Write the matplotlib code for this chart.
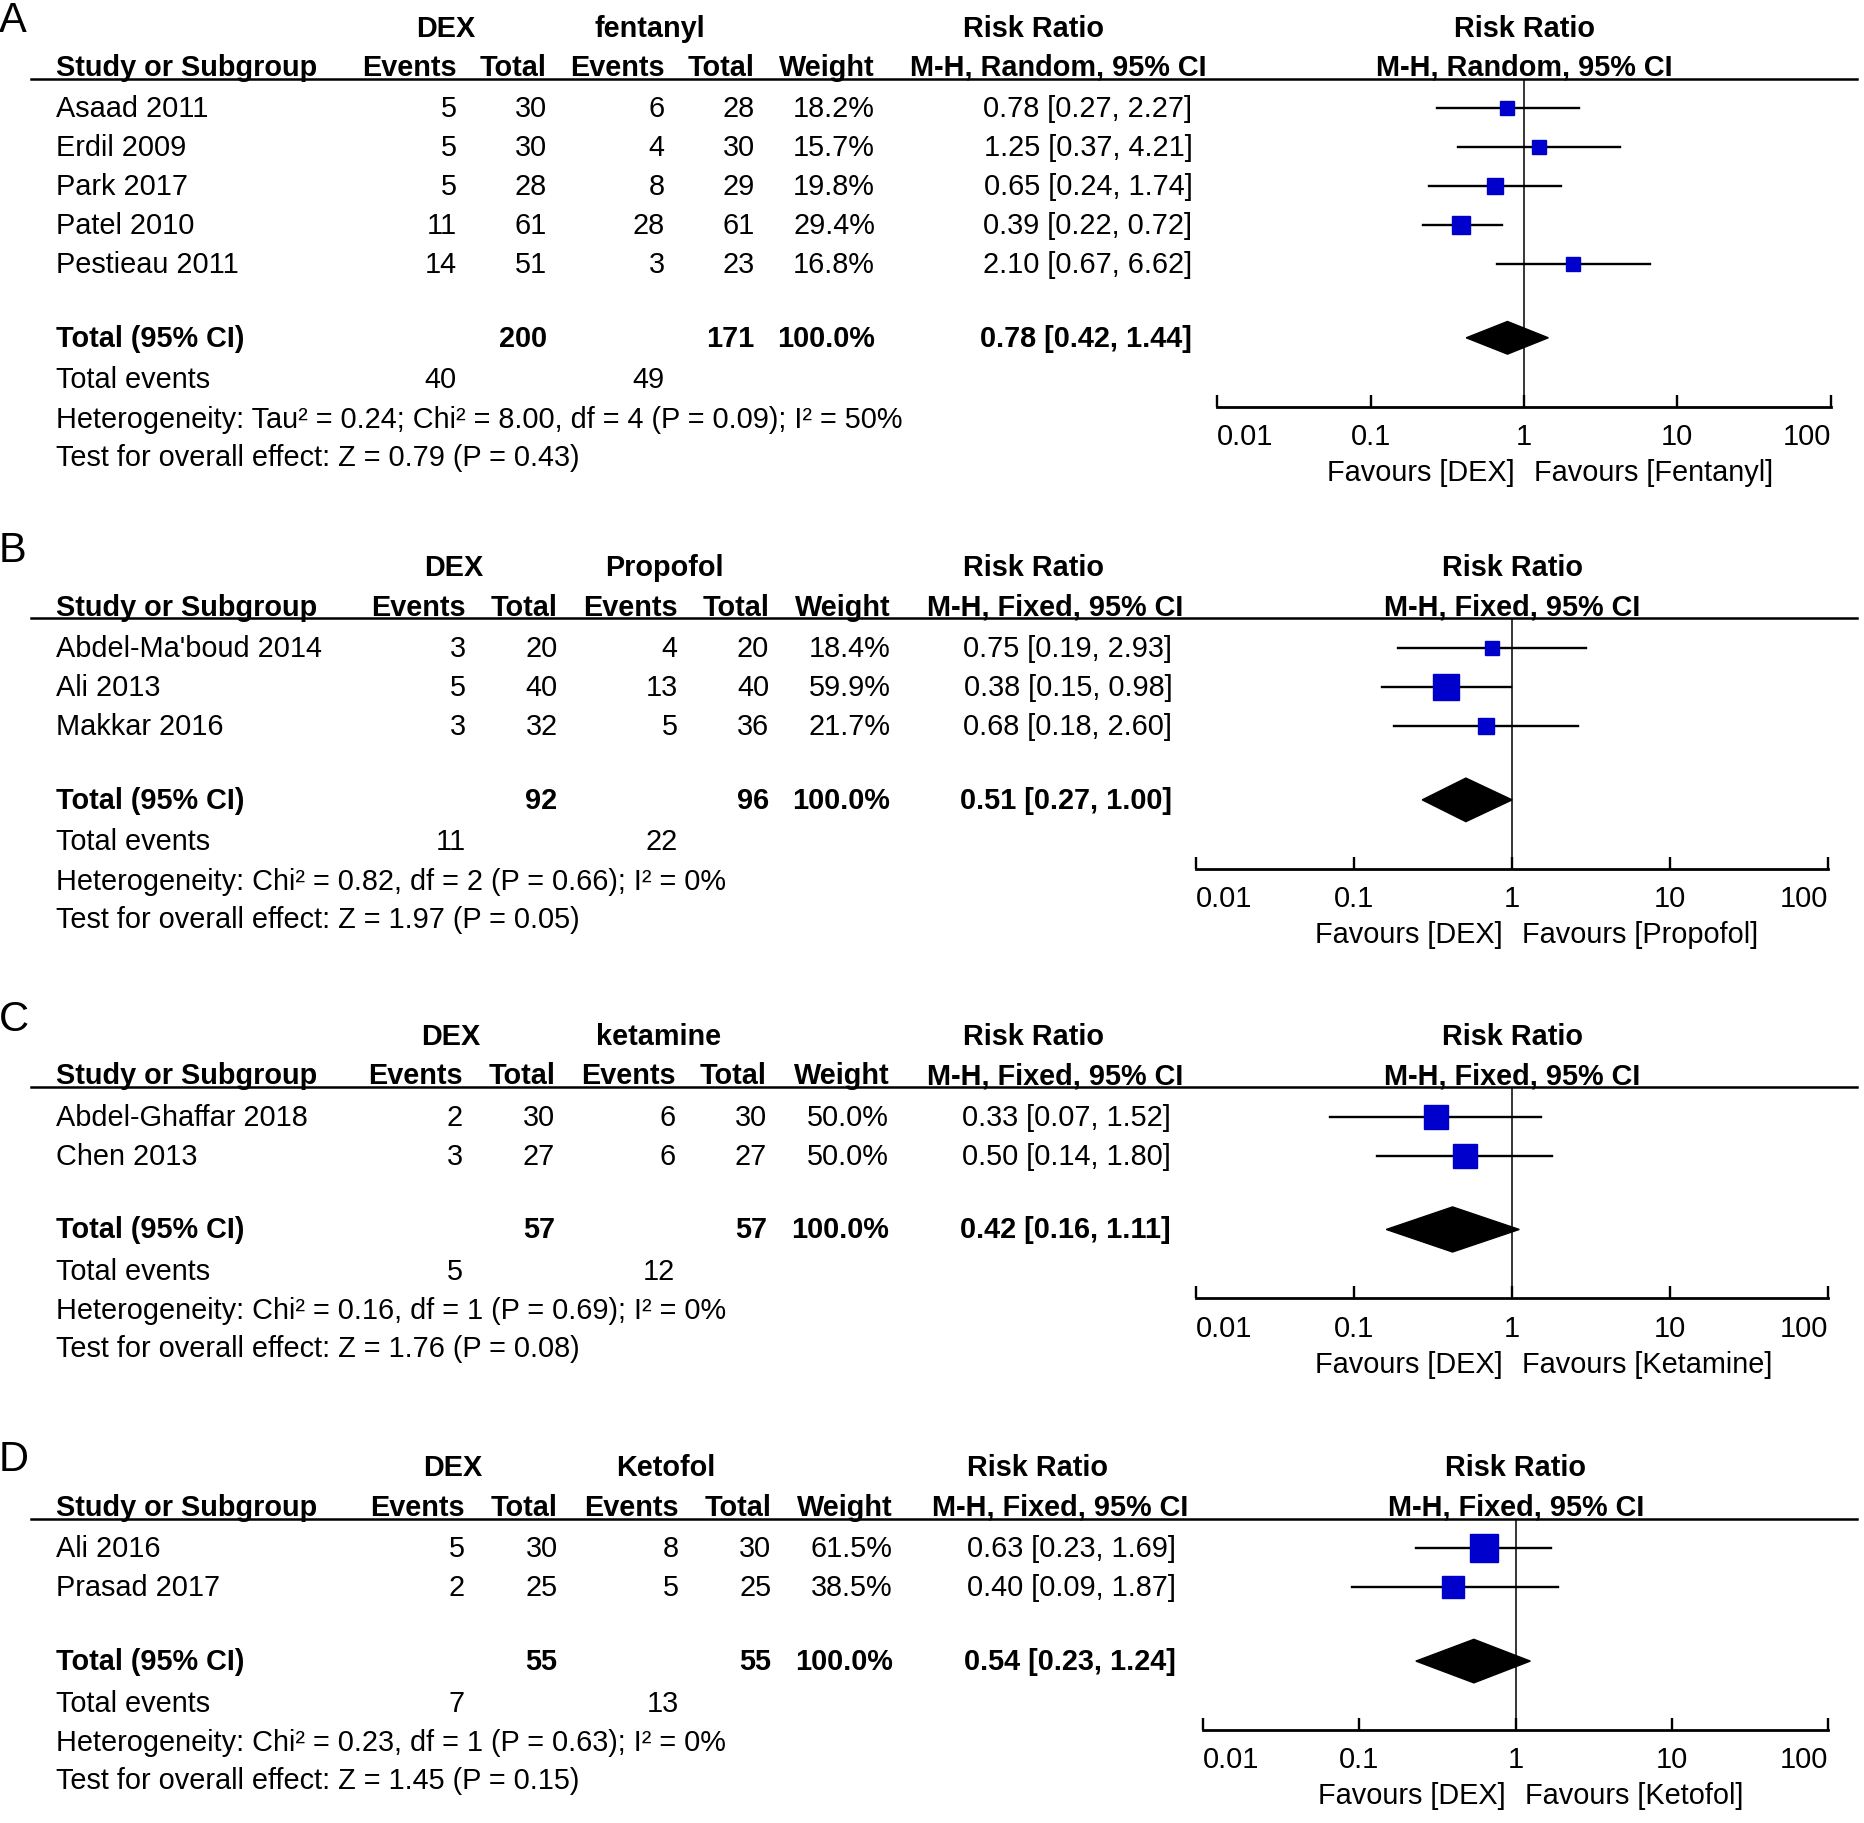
import numpy as np
import matplotlib.pyplot as plt
from matplotlib import transforms
from matplotlib.lines import Line2D
from matplotlib.ticker import NullLocator

plt.rcParams['font.family'] = ['Liberation Sans', 'DejaVu Sans']

# panel A: DEX vs fentanyl
a_studies = ['Asaad 2011', 'Erdil 2009', 'Park 2017', 'Patel 2010', 'Pestieau 2011']
a_dex_events = [5, 5, 5, 11, 14]
a_dex_total = [30, 30, 28, 61, 51]
a_ctl_events = [6, 4, 8, 28, 3]
a_ctl_total = [28, 30, 29, 61, 23]
a_weight = [18.2, 15.7, 19.8, 29.4, 16.8]
a_rr = [0.78, 1.25, 0.65, 0.39, 2.10]
a_lo = [0.27, 0.37, 0.24, 0.22, 0.67]
a_hi = [2.27, 4.21, 1.74, 0.72, 6.62]
a_pooled = [0.78, 0.42, 1.44]
a_het = 'Heterogeneity: Tau² = 0.24; Chi² = 8.00, df = 4 (P = 0.09); I² = 50%'
a_test = 'Test for overall effect: Z = 0.79 (P = 0.43)'

# panel B: DEX vs propofol
b_studies = ["Abdel-Ma'boud 2014", 'Ali 2013', 'Makkar 2016']
b_dex_events = [3, 5, 3]
b_dex_total = [20, 40, 32]
b_ctl_events = [4, 13, 5]
b_ctl_total = [20, 40, 36]
b_weight = [18.4, 59.9, 21.7]
b_rr = [0.75, 0.38, 0.68]
b_lo = [0.19, 0.15, 0.18]
b_hi = [2.93, 0.98, 2.60]
b_pooled = [0.51, 0.27, 1.00]
b_het = 'Heterogeneity: Chi² = 0.82, df = 2 (P = 0.66); I² = 0%'
b_test = 'Test for overall effect: Z = 1.97 (P = 0.05)'

# panel C: DEX vs ketamine
c_studies = ['Abdel-Ghaffar 2018', 'Chen 2013']
c_dex_events = [2, 3]
c_dex_total = [30, 27]
c_ctl_events = [6, 6]
c_ctl_total = [30, 27]
c_weight = [50.0, 50.0]
c_rr = [0.33, 0.50]
c_lo = [0.07, 0.14]
c_hi = [1.52, 1.80]
c_pooled = [0.42, 0.16, 1.11]
c_het = 'Heterogeneity: Chi² = 0.16, df = 1 (P = 0.69); I² = 0%'
c_test = 'Test for overall effect: Z = 1.76 (P = 0.08)'

# panel D: DEX vs ketofol
d_studies = ['Ali 2016', 'Prasad 2017']
d_dex_events = [5, 2]
d_dex_total = [30, 25]
d_ctl_events = [8, 5]
d_ctl_total = [30, 25]
d_weight = [61.5, 38.5]
d_rr = [0.63, 0.40]
d_lo = [0.23, 0.09]
d_hi = [1.69, 1.87]
d_pooled = [0.54, 0.23, 1.24]
d_het = 'Heterogeneity: Chi² = 0.23, df = 1 (P = 0.63); I² = 0%'
d_test = 'Test for overall effect: Z = 1.45 (P = 0.15)'

ticks = [0.01, 0.1, 1, 10, 100]
tick_labels = ['0.01', '0.1', '1', '10', '100']

panels = [
    dict(tag='A', ctl='fentanyl', fav='Fentanyl', method='Random',
         studies=a_studies, de=a_dex_events, dt=a_dex_total, ce=a_ctl_events,
         ct=a_ctl_total, w=a_weight, rr=a_rr, lo=a_lo, hi=a_hi,
         pooled=a_pooled, het=a_het, test=a_test,
         hy=67, tag_y=18, cols=[384, 460, 559, 635, 736, 1003],
         grp=[375, 547, 869], mh=890, fx0=1024, fx1=1540, dh=0.42),
    dict(tag='B', ctl='Propofol', fav='Propofol', method='Fixed',
         studies=b_studies, de=b_dex_events, dt=b_dex_total, ce=b_ctl_events,
         ct=b_ctl_total, w=b_weight, rr=b_rr, lo=b_lo, hi=b_hi,
         pooled=b_pooled, het=b_het, test=b_test,
         hy=521, tag_y=463, cols=[392, 469, 570, 647, 749, 986],
         grp=[382, 559, 869], mh=888, fx0=1006, fx1=1538, dh=0.56),
    dict(tag='C', ctl='ketamine', fav='Ketamine', method='Fixed',
         studies=c_studies, de=c_dex_events, dt=c_dex_total, ce=c_ctl_events,
         ct=c_ctl_total, w=c_weight, rr=c_rr, lo=c_lo, hi=c_hi,
         pooled=c_pooled, het=c_het, test=c_test,
         hy=915, tag_y=858, cols=[389, 467, 568, 645, 748, 985],
         grp=[379, 554, 869], mh=888, fx0=1006, fx1=1538, dh=0.58),
    dict(tag='D', ctl='Ketofol', fav='Ketofol', method='Fixed',
         studies=d_studies, de=d_dex_events, dt=d_dex_total, ce=d_ctl_events,
         ct=d_ctl_total, w=d_weight, rr=d_rr, lo=d_lo, hi=d_hi,
         pooled=d_pooled, het=d_het, test=d_test,
         hy=1278, tag_y=1228, cols=[391, 469, 571, 649, 751, 989],
         grp=[381, 560, 873], mh=892, fx0=1012, fx1=1538, dh=0.56),
]

# positions below are read in a 1568 x 1534 frame of the reference
W, H = 1568.0, 1534.0
S = 32.7  # row pitch
FS = 20.8


def fx(x):
    return x / W


def fy(y):
    return 1 - y / H


fig = plt.figure(figsize=(18.64, 18.24), dpi=100)

for p in panels:
    n = len(p['studies'])
    top = -25 / S
    tot = n + 0.9
    bottom = tot + 58 / S
    h_px = (bottom - top) * S
    ax = fig.add_axes([fx(p['fx0']), fy(p['hy'] + h_px),
                       fx(p['fx1']) - fx(p['fx0']), h_px / H])
    ax.patch.set_visible(False)
    ax.set_xscale('log')
    ax.set_xlim(0.01, 100)
    ax.set_ylim(bottom, top)
    for side in ['left', 'right', 'top']:
        ax.spines[side].set_visible(False)
    ax.spines['bottom'].set_linewidth(2.0)
    ax.set_xticks(ticks)
    ax.set_xticklabels(tick_labels)
    ax.xaxis.set_minor_locator(NullLocator())
    ax.tick_params(axis='x', direction='in', length=9, width=1.7, pad=11,
                   labelsize=FS)
    ax.tick_params(axis='y', left=False, labelleft=False)
    labs = ax.get_xticklabels()
    labs[0].set_ha('left')
    labs[-1].set_ha('right')

    ax.axvline(1, color='black', lw=1.1)
    for i in range(n):
        ax.plot([p['lo'][i], p['hi'][i]], [i, i], color='black', lw=1.7)
        ax.plot(p['rr'][i], i, marker='s', ms=2.5 * np.sqrt(p['w'][i]),
                color='#0000CC', mec='#0000CC')
    est, plo, phi = p['pooled']
    ax.fill([plo, est, phi, est], [tot, tot - p['dh'], tot, tot + p['dh']],
            color='black')

    off = -55 * 1864 / W * 0.72
    ax.annotate('Favours [DEX]', xy=(1, 0), xycoords=('data', 'axes fraction'),
                xytext=(-7, off), textcoords='offset points', ha='right',
                va='center', fontsize=FS)
    ax.annotate('Favours [%s]' % p['fav'], xy=(1, 0),
                xycoords=('data', 'axes fraction'), xytext=(7, off),
                textcoords='offset points', ha='left', va='center', fontsize=FS)

    # header texts over the forest
    r1 = top - 43 / S
    r2 = top - 10 / S
    ax.text(1, r1, 'Risk Ratio', ha='center', va='center', fontsize=FS,
            fontweight='bold')
    ax.text(1, r2, 'M-H, %s, 95%% CI' % p['method'], ha='center', va='center',
            fontsize=FS, fontweight='bold')

    fig.add_artist(Line2D([fx(26), fx(1562)], [fy(p['hy'])] * 2,
                          transform=fig.transFigure, color='black', lw=1.8))
    fig.text(fx(-1), fy(p['tag_y']), p['tag'], fontsize=30, ha='left',
             va='center')

    tr = transforms.blended_transform_factory(fig.transFigure, ax.transData)
    cols = [fx(c) for c in p['cols']]
    bold = dict(fontsize=FS, fontweight='bold', va='center', transform=tr)
    norm = dict(fontsize=FS, va='center', transform=tr)

    g = p['grp']
    ax.text(fx(g[0]), r1, 'DEX', ha='center', **bold)
    ax.text(fx(g[1]), r1, p['ctl'], ha='center', **bold)
    ax.text(fx(g[2]), r1, 'Risk Ratio', ha='center', **bold)
    ax.text(fx(47), r2, 'Study or Subgroup', ha='left', **bold)
    for c, lab in zip(cols[:5], ['Events', 'Total', 'Events', 'Total', 'Weight']):
        ax.text(c, r2, lab, ha='right', **bold)
    ax.text(fx(p['mh']), r2, 'M-H, %s, 95%% CI' % p['method'], ha='center', **bold)

    for i in range(n):
        ax.text(fx(47), i, p['studies'][i], ha='left', **norm)
        vals = [str(p['de'][i]), str(p['dt'][i]), str(p['ce'][i]),
                str(p['ct'][i]), '%.1f%%' % p['w'][i],
                '%.2f [%.2f, %.2f]' % (p['rr'][i], p['lo'][i], p['hi'][i])]
        for c, v in zip(cols, vals):
            ax.text(c, i, v, ha='right', **norm)

    ax.text(fx(47), tot, 'Total (95% CI)', ha='left', **bold)
    ax.text(cols[1], tot, str(sum(p['dt'])), ha='right', **bold)
    ax.text(cols[3], tot, str(sum(p['ct'])), ha='right', **bold)
    ax.text(cols[4], tot, '100.0%', ha='right', **bold)
    ax.text(cols[5], tot, '%.2f [%.2f, %.2f]' % (est, plo, phi), ha='right', **bold)

    ev = tot + 35 / S
    ax.text(fx(47), ev, 'Total events', ha='left', **norm)
    ax.text(cols[0], ev, str(sum(p['de'])), ha='right', **norm)
    ax.text(cols[2], ev, str(sum(p['ce'])), ha='right', **norm)
    ax.text(fx(47), tot + 68 / S, p['het'], ha='left', **norm)
    ax.text(fx(47), tot + 100 / S, p['test'], ha='left', **norm)

fig.savefig('out.png', dpi=100, facecolor='white')
